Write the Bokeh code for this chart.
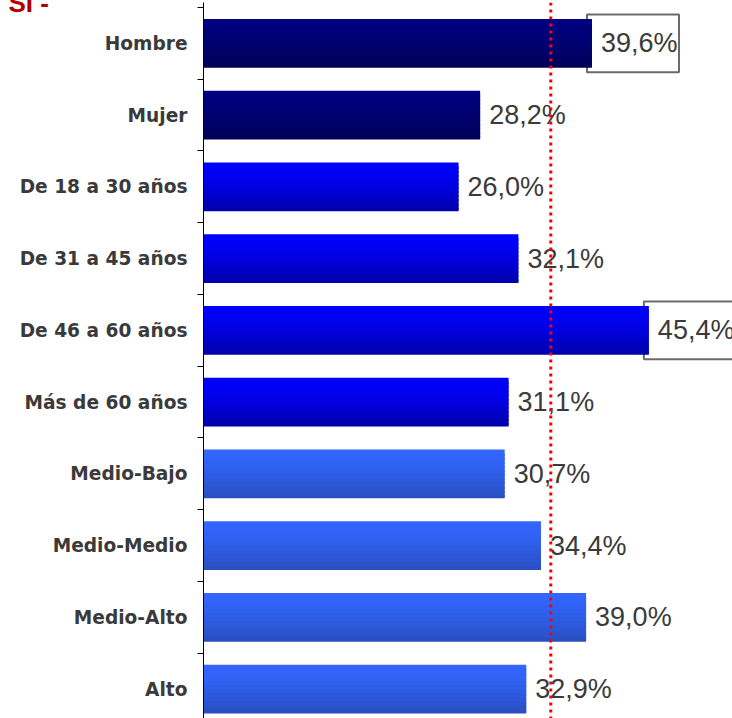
import numpy as np
from bokeh.plotting import figure
from bokeh.models import Range1d, FixedTicker, Span, ColumnDataSource
from bokeh.core.properties import value
from bokeh.embed import file_html
from bokeh.resources import INLINE

# ---- data ----
categories = ["Hombre", "Mujer", "De 18 a 30 años", "De 31 a 45 años", "De 46 a 60 años",
              "Más de 60 años", "Medio-Bajo", "Medio-Medio", "Medio-Alto", "Alto"]
values = [39.6, 28.2, 26.0, 32.1, 45.4, 31.1, 30.7, 34.4, 39.0, 32.9]
groups = ["sexo", "sexo", "edad", "edad", "edad", "edad", "nse", "nse", "nse", "nse"]
highlighted = [True, False, False, False, True, False, False, False, False, False]
reference_value = 35.4
title_text = "SI -"

# ---- styles / layout ----
group_colors = {
    "sexo": ((0, 0, 128), (0, 0, 86)),
    "edad": ((0, 0, 255), (0, 0, 168)),
    "nse": ((51, 102, 255), (40, 78, 190)),
}
W, H = 732, 718
left_border = 203
px_x = 9.81          # px per percentage point
px_cat = 71.95       # px per category
first_boundary = 5   # px from top of frame to first category boundary
bar_h = 0.681
n_stripes = 12

p = figure(width=W, height=H, output_backend="svg", toolbar_location=None,
           x_range=Range1d(0, (W - left_border) / px_x),
           y_range=Range1d((H - first_boundary) / px_cat, -first_boundary / px_cat),
           min_border_left=left_border, min_border_right=0,
           min_border_top=0, min_border_bottom=0,
           x_axis_location=None)
p.outline_line_color = None
p.grid.visible = False
p.background_fill_color = "white"

# cut-off title at top-left
p.title.text = title_text
p.title.align = "left"
p.title.offset = -195
p.title.standoff = -30
p.title.text_font = "Liberation Sans"
p.title.text_font_style = "bold"
p.title.text_font_size = "26px"
p.title.text_color = "#b00000"

n = len(categories)
centers = [i + 0.5 for i in range(n)]

# highlight boxes (under bars)
hx = [v for v, h in zip(values, highlighted) if h]
hy = [c for c, h in zip(centers, highlighted) if h]
box_src = ColumnDataSource(dict(
    left=[v - 5 / px_x for v in hx],
    right=[v + 87 / px_x for v in hx],
    top=[c - 29 / px_cat for c in hy],
    bottom=[c + 29 / px_cat for c in hy],
))
p.quad(left="left", right="right", top="top", bottom="bottom", source=box_src,
       fill_color="white", line_color="#6a6a6a", line_width=2)

# gradient bars built from overlapping stripes
tops, bottoms, rights, cols = [], [], [], []
for v, c, g in zip(values, centers, groups):
    top_c, bot_c = group_colors[g]
    y0 = c - bar_h / 2
    y1 = c + bar_h / 2
    for k in range(n_stripes):
        t = (k + 0.5) / n_stripes
        f = t ** 1.4
        col = tuple(int(round(a + (b - a) * f)) for a, b in zip(top_c, bot_c))
        tops.append(y0 + k * bar_h / n_stripes)
        bottoms.append(min(y0 + (k + 1.7) * bar_h / n_stripes, y1))
        rights.append(v)
        cols.append("#%02x%02x%02x" % col)
p.quad(left=0, right=rights, top=tops, bottom=bottoms, fill_color=cols, line_color=None)

# value labels
labels = [("%.1f" % v).replace(".", ",") + "%" for v in values]
p.text(x=values, y=centers, text=labels, x_offset=9, text_baseline="middle",
       text_align="left", text_font=value("Liberation Sans"), text_font_size="27px",
       text_color="#3a3a3a")

# reference line
p.add_layout(Span(location=reference_value, dimension="height", line_color="#ff0000",
                  line_width=3, line_dash="3 4"))

# axis
ax = p.yaxis[0]
ax.ticker = FixedTicker(ticks=centers, minor_ticks=[float(i) for i in range(n + 1)])
ax.major_label_overrides = {c: cat for c, cat in zip(centers, categories)}
ax.major_tick_out = 0
ax.major_tick_in = 0
ax.minor_tick_out = 6
ax.minor_tick_in = 0
ax.minor_tick_line_color = "black"
ax.axis_line_color = "black"
ax.major_label_standoff = 10
ax.major_label_text_font = "DejaVu Sans"
ax.major_label_text_font_style = "bold"
ax.major_label_text_font_size = "18.6px"
ax.major_label_text_color = "#3a3a3a"

open("out.html", "w").write(file_html(p, INLINE))
